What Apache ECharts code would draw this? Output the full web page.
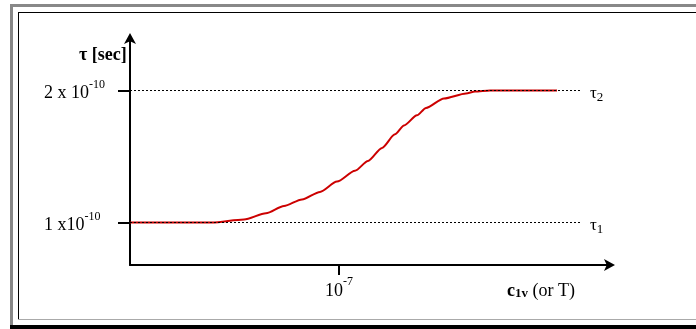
<!DOCTYPE html>
<html><head><meta charset="utf-8">
<script src="https://cdn.jsdelivr.net/npm/echarts@6/dist/echarts.min.js"></script>
<style>html,body{margin:0;padding:0;background:#fff}#c{width:696px;height:329px}</style>
</head><body><div id="c"></div>
<script>
// x: log10 of c1v (arbitrary decade spacing), y: tau in units of 1e-10 s
const logC = [-9.09, -8.27, -7.95, -7.73, -7.55, -7.37, -7.19, -7.02, -6.84, -6.71, -6.57, -6.44, -6.35, -6.22, -6.13, -5.95, -5.73, -5.64, -5.49, -4.82];
const tau  = [1.0, 1.0, 1.023, 1.07, 1.125, 1.175, 1.232, 1.31, 1.392, 1.466, 1.565, 1.668, 1.735, 1.812, 1.868, 1.94, 1.978, 1.992, 2.0, 2.0];
const tauLevels = [1, 2];
const tauLevelSubs = ['1', '2'];
const yTickLabels = {1: ['1 x10', '-10'], 2: ['2 x 10', '-10']};
const xTickValue = -7;
const xTickLabel = ['10', '-7'];
const xRange = [-9.09, -4.29];
const yRange = [0.6781, 2.3978];
const dashEnd = -4.59;
const yAxisTitle = 'τ [sec]';
const xAxisTitle = ['c', '1v', ' (or T)'];

const serif = '"Liberation Serif", "DejaVu Serif", serif';
const chart = echarts.init(document.getElementById('c'), null, {renderer: 'canvas'});

const levelSeries = tauLevels.map((lv, i) => ({
  type: 'line',
  data: [[xRange[0], lv], [dashEnd, lv]],
  symbol: 'none',
  silent: true,
  z: 3,
  lineStyle: {color: '#000', width: 1, type: [2, 2]},
  endLabel: {
    show: true,
    distance: 10,
    formatter: '{t|τ}{s|' + tauLevelSubs[i] + '}',
    rich: {
      t: {fontFamily: serif, fontSize: 17, color: '#000', verticalAlign: 'top'},
      s: {fontFamily: serif, fontSize: 13, color: '#000', verticalAlign: 'bottom', padding: [6, 0, 0, 0]}
    },
    offset: [0, 4]
  }
}));

const tickRich = {
  b: {fontFamily: serif, fontSize: 18, color: '#000', verticalAlign: 'bottom', padding: [6, 0, 0, 0]},
  p: {fontFamily: serif, fontSize: 12, color: '#000', verticalAlign: 'top', padding: [0, 0, 6, 0]}
};

chart.setOption({
  animation: false,
  backgroundColor: '#fff',
  grid: {left: 130, right: 86, top: 38, bottom: 64, containLabel: false},
  xAxis: {
    type: 'value', min: xRange[0], max: xRange[1],
    splitLine: {show: false},
    axisLine: {show: true, onZero: false, lineStyle: {color: '#000', width: 2},
      symbol: ['none', 'arrow'], symbolSize: [9, 11], symbolOffset: [0, 5]},
    axisTick: {show: true, customValues: [xTickValue], length: 10, inside: false, lineStyle: {color: '#000', width: 2}},
    axisLabel: {
      show: true, customValues: [xTickValue], margin: 11,
      formatter: () => '{b|' + xTickLabel[0] + '}{p|' + xTickLabel[1] + '}',
      rich: tickRich
    }
  },
  yAxis: {
    type: 'value', min: yRange[0], max: yRange[1],
    splitLine: {show: false},
    axisLine: {show: true, onZero: false, lineStyle: {color: '#000', width: 2},
      symbol: ['none', 'arrow'], symbolSize: [9, 11], symbolOffset: [0, 5]},
    axisTick: {show: true, customValues: tauLevels, length: 12, lineStyle: {color: '#000', width: 2}},
    axisLabel: {
      show: true, customValues: tauLevels, margin: 86, align: 'left',
      formatter: (v) => {
        const k = Math.round(v);
        const t = yTickLabels[k];
        return t ? '{b|' + t[0] + '}{p|' + t[1] + '}' : '';
      },
      rich: tickRich
    }
  },
  series: [
    ...levelSeries,
    {
      type: 'line',
      data: logC.map((x, i) => [x, tau[i]]),
      smooth: 0.25,
      smoothMonotone: 'x',
      symbol: 'none',
      z: 2,
      lineStyle: {color: '#cc0000', width: 2}
    }
  ],
  graphic: [
    // outer grey frame (top, left) and black bottom bar
    {type: 'rect', shape: {x: 10, y: 4, width: 686, height: 3}, style: {fill: '#888'}, silent: true},
    {type: 'rect', shape: {x: 10, y: 4, width: 3, height: 321}, style: {fill: '#888'}, silent: true},
    {type: 'rect', shape: {x: 10, y: 325, width: 686, height: 4}, style: {fill: '#000'}, silent: true},
    // inner frame
    {type: 'line', shape: {x1: 18, y1: 12.5, x2: 696, y2: 12.5}, style: {stroke: '#000', lineWidth: 1}, silent: true},
    {type: 'line', shape: {x1: 18.5, y1: 12, x2: 18.5, y2: 319}, style: {stroke: '#000', lineWidth: 1}, silent: true},
    {type: 'line', shape: {x1: 18, y1: 319.5, x2: 696, y2: 319.5}, style: {stroke: '#aaa', lineWidth: 1}, silent: true},
    // axis titles
    {type: 'text', left: 79, top: 46, silent: true,
      style: {text: yAxisTitle, font: 'bold 18px ' + serif, fill: '#000'}},
    {type: 'text', left: 507, top: 282, silent: true,
      style: {
        text: '{c|' + xAxisTitle[0] + '}{s|' + xAxisTitle[1] + '}{r|' + xAxisTitle[2] + '}',
        rich: {
          c: {fontFamily: serif, fontWeight: 'bold', fontSize: 18, fill: '#000', verticalAlign: 'bottom'},
          s: {fontFamily: serif, fontWeight: 'bold', fontSize: 13, fill: '#000', verticalAlign: 'bottom'},
          r: {fontFamily: serif, fontSize: 18, fill: '#000', verticalAlign: 'bottom'}
        }
      }}
  ]
});
</script></body></html>
